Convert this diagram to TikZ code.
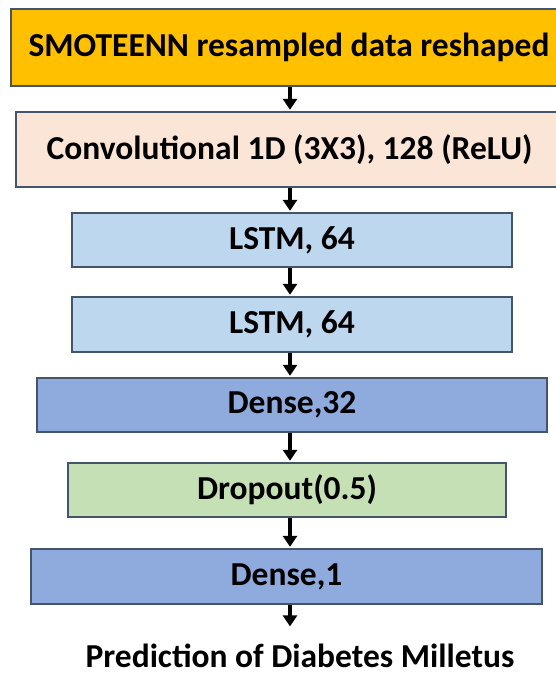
\documentclass[tikz,border=0pt]{standalone}
\usepackage{fontspec}
\setmainfont{Carlito}
\usetikzlibrary{arrows.meta}

\definecolor{edgeblue}{HTML}{44546A}
\definecolor{inputgold}{HTML}{FFC000}
\definecolor{convpeach}{HTML}{FBE5D6}
\definecolor{lstmblue}{HTML}{BDD7EE}
\definecolor{densblue}{HTML}{8FAADC}
\definecolor{dropgreen}{HTML}{C5E0B4}

\begin{document}
\begin{tikzpicture}[x=1pt, y=-1pt,
	layer/.style={draw=edgeblue, line width=1.4pt, inner sep=0pt, font=\bfseries\fontsize{33.5}{38}\selectfont},
	flow/.style={-{Triangle[width=14pt,length=11pt]}, line width=3.8pt, shorten >=1.5pt}]
	\useasboundingbox (0,0) rectangle (556,677);
	\coordinate (col) at (290,0);
	\node[layer, fill=inputgold, minimum width=556pt, minimum height=77pt] (input) at (289,47.5) {SMOTEENN resampled data reshaped};
	\node[layer, fill=convpeach, minimum width=547pt, minimum height=75pt] (conv) at (289.5,149.5) {Convolutional 1D (3X3), 128 (ReLU)};
	\node[layer, fill=lstmblue, minimum width=440pt, minimum height=54pt] (lstma) at (292,240) {LSTM, 64};
	\node[layer, fill=lstmblue, minimum width=440pt, minimum height=55pt] (lstmb) at (292,324.5) {LSTM, 64};
	\node[layer, fill=densblue, minimum width=510pt, minimum height=54pt] (densa) at (292,405) {Dense,32};
	\node[layer, fill=dropgreen, minimum width=438pt, minimum height=54pt] (drop) at (287,490) {Dropout(0.5)};
	\node[layer, fill=densblue, minimum width=511pt, minimum height=55pt] (densb) at (286.5,576.5) {Dense,1};
	\node[font=\bfseries\fontsize{33.5}{38}\selectfont, inner sep=0pt] (pred) at (300,656) {Prediction of Diabetes Milletus};
	% arrows between layers
	\draw[flow] (input.south -| col) -- (conv.north -| col);
	\draw[flow] (conv.south -| col) -- (lstma.north -| col);
	\draw[flow] (lstma.south -| col) -- (lstmb.north -| col);
	\draw[flow] (lstmb.south -| col) -- (densa.north -| col);
	\draw[flow] (densa.south -| col) -- (drop.north -| col);
	\draw[flow] (drop.south -| col) -- (densb.north -| col);
	\draw[flow] (densb.south -| col) -- ([yshift=16pt]pred.north -| col);
\end{tikzpicture}
\end{document}
